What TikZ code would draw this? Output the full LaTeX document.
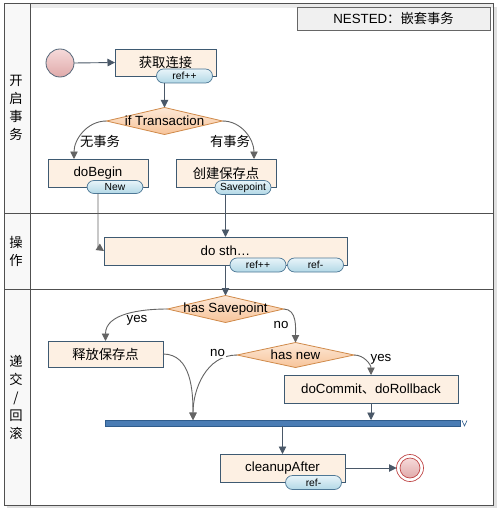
\documentclass[tikz,border=0pt]{standalone}
\usepackage{fontspec}
\setmainfont{Liberation Sans}
\newfontfamily\cjk{Noto Sans CJK SC}
\usetikzlibrary{arrows.meta,shapes.geometric,calc}
\definecolor{boxfill}{HTML}{FDF0E3}
\definecolor{boxdraw}{HTML}{3E5A72}
\definecolor{pilltop}{HTML}{E8F4F9}
\definecolor{pillbot}{HTML}{B2D8E6}
\definecolor{pilldraw}{HTML}{4E7896}
\definecolor{dmtop}{HTML}{FDE8D6}
\definecolor{dmbot}{HTML}{F7C49A}
\definecolor{dmdraw}{HTML}{D08A4A}
\definecolor{lanedraw}{HTML}{505050}
\definecolor{arrowc}{HTML}{4A5868}
\definecolor{curvec}{HTML}{646464}
\definecolor{barfill}{HTML}{4A7CB4}
\definecolor{bardraw}{HTML}{2F5C8C}
\definecolor{headfill}{HTML}{F8F8F8}
\definecolor{titlefill}{HTML}{F0F0F0}
\definecolor{circtop}{HTML}{F6DADA}
\definecolor{circbot}{HTML}{E0AAAA}
\definecolor{circdraw}{HTML}{56687A}
\definecolor{endring}{HTML}{C04848}
\begin{document}
\begin{tikzpicture}[x=1pt,y=-1pt,
  font=\fontsize{13.3}{16}\selectfont,
  every node/.style={inner sep=0pt, outer sep=0pt},
  actbox/.style={draw=boxdraw, fill=boxfill, line width=0.8pt, minimum height=28pt},
  pill/.style={draw=pilldraw, top color=pilltop, bottom color=pillbot, rounded corners=7pt,
    minimum width=56pt, minimum height=14pt, font=\fontsize{10.3}{12}\selectfont, line width=0.7pt},
  dmd/.style={diamond, draw=dmdraw, top color=dmtop, bottom color=dmbot,
    minimum width=116pt, minimum height=27pt, line width=0.8pt},
  arr/.style={draw=arrowc, line width=0.9pt, -{Triangle[length=7.5pt,width=7.5pt]}},
  carr/.style={draw=curvec, line width=0.9pt, -{Triangle[length=7.5pt,width=7.5pt]}},
  cjklbl/.style={font=\cjk\fontsize{13.3}{16}\selectfont},
  lanetxt/.style={font=\cjk\fontsize{13.3}{18}\selectfont, align=center},
]
\useasboundingbox (0,0) rectangle (497,508);
% shadow and frame
\fill[black!12] (7,7) rectangle (497,508);
\fill[white] (4,4) rectangle (493,505);
\fill[black!8] (31,4) rectangle (493,8);
\fill[headfill] (4,4) rectangle (30,505);
\draw[lanedraw, line width=1pt] (4,4) rectangle (493,505);
\draw[lanedraw, line width=1.6pt] (30.5,4) -- (30.5,505);
\draw[lanedraw, line width=1pt] (4,213) -- (493,213);
\draw[lanedraw, line width=1pt] (4,289) -- (493,289);
% lane headers
\node[lanetxt] (h1) at (16,108) {开\\启\\事\\务};
\node[lanetxt] (h2) at (16,251.5) {操\\作};
\node[lanetxt] (h3) at (16,397) {递\\交\\/\\回\\滚};
% title
\node[draw=black!60, fill=titlefill, line width=0.8pt, minimum width=193pt, minimum height=23pt] (title)
  at (393.5,18.5) {NESTED{\cjk ：嵌套事务}};
% lane 1
\node[circle, draw=circdraw, top color=circtop, bottom color=circbot, minimum size=28pt, line width=0.8pt] (start) at (60,63) {};
\node[actbox, minimum width=101pt, minimum height=27pt, font=\cjk\fontsize{13.3}{16}\selectfont] (g) at (165.5,62.5) {获取连接};
\node[dmd, label={center:if Transaction}] (d1) at (164.5,121) {};
\node[actbox, minimum width=100pt] (b1) at (98,173) {doBegin};
\node[actbox, minimum width=100pt, font=\cjk\fontsize{13.3}{16}\selectfont] (b2) at (226,173) {创建保存点};
% lane 2
\node[actbox, minimum width=243pt] (ds) at (225.5,251) {do sth…};
% lane 3
\node[dmd, label={center:has Savepoint}] (d2) at (225.5,309) {};
\node[actbox, minimum width=115pt, minimum height=26pt, font=\cjk\fontsize{13.3}{16}\selectfont] (r1) at (105.5,354) {释放保存点};
\node[dmd, minimum width=117pt, minimum height=25pt, label={center:has new}] (d3) at (295.5,355) {};
\node[actbox, minimum width=174pt] (dc) at (371,389) {doCommit{\cjk 、}doRollback};
\node[draw=bardraw, fill=barfill, line width=0.6pt, minimum width=355pt, minimum height=6pt] (bar) at (282.5,423) {};
\node[actbox, minimum width=125pt] (ca) at (282.5,468) {cleanupAfter};
\node[circle, draw=endring, line width=0.7pt, minimum size=27pt, fill=white] (end) at (410,468) {};
\node[circle, draw=endring, line width=0.7pt, top color=circtop, bottom color=circbot, minimum size=20pt] (endin) at (410,468) {};
\coordinate (mg) at (193,420);
% connectors
\draw[arr] (start.east) -- (g.west);
\draw[carr] (d1.west) to[out=180,in=90] ([xshift=-24pt]b1.north);
\draw[carr] (d1.east) to[out=0,in=90] ([xshift=28pt]b2.north);
\draw[arr] (ds.south) -- (d2.north);
\draw[carr] (d2.west) to[out=180,in=90] (r1.north);
\draw[carr] (d2.east) to[out=0,in=90] (d3.north);
\draw[carr] (d3.east) to[out=0,in=90] (dc.north);
\draw[carr] (d3.west) to[out=180,in=90] (mg);
\draw[carr] (r1.east) to[out=0,in=90] (mg);
\draw[arr] (dc.south) -- (dc.south |- bar.north);
\draw[arr] (bar.south -| ca.north) -- (ca.north);
\draw[arr] (ca.east) -- (end.west);
% pills
\node[pill] (gp) at (184.5,76) {ref++};
\node[pill, minimum height=13pt] (bn) at (115,187) {New};
\node[pill] (bs) at (243,187.5) {Savepoint};
\node[pill] (dp1) at (258,265) {ref++};
\node[pill] (dp2) at (315.5,265) {ref-};
\node[pill] (cp) at (313.5,482.5) {ref-};
\draw[arr] (gp.south -| d1.north) -- (d1.north);
\draw[carr] ([xshift=-17pt]bn.south) .. controls +(0,40) and +(-6,-4) .. (ds.west);
\draw[arr] (bs.south -| ds.north) -- (ds.north);
% labels
\node[cjklbl] (l1) at (100,141) {无事务};
\node[cjklbl] (l2) at (230,141) {有事务};
\node (l3) at (137,320) {yes};
\node (l4) at (281,325) {no};
\node[fill=white, inner sep=1pt] (l5) at (217.5,353) {no};
\node (l6) at (381,359) {yes};
% small mark at bar end
\draw[bardraw, line width=0.6pt] (462,420.5) -- (464.5,426) -- (467,420.5);
\end{tikzpicture}
\end{document}
